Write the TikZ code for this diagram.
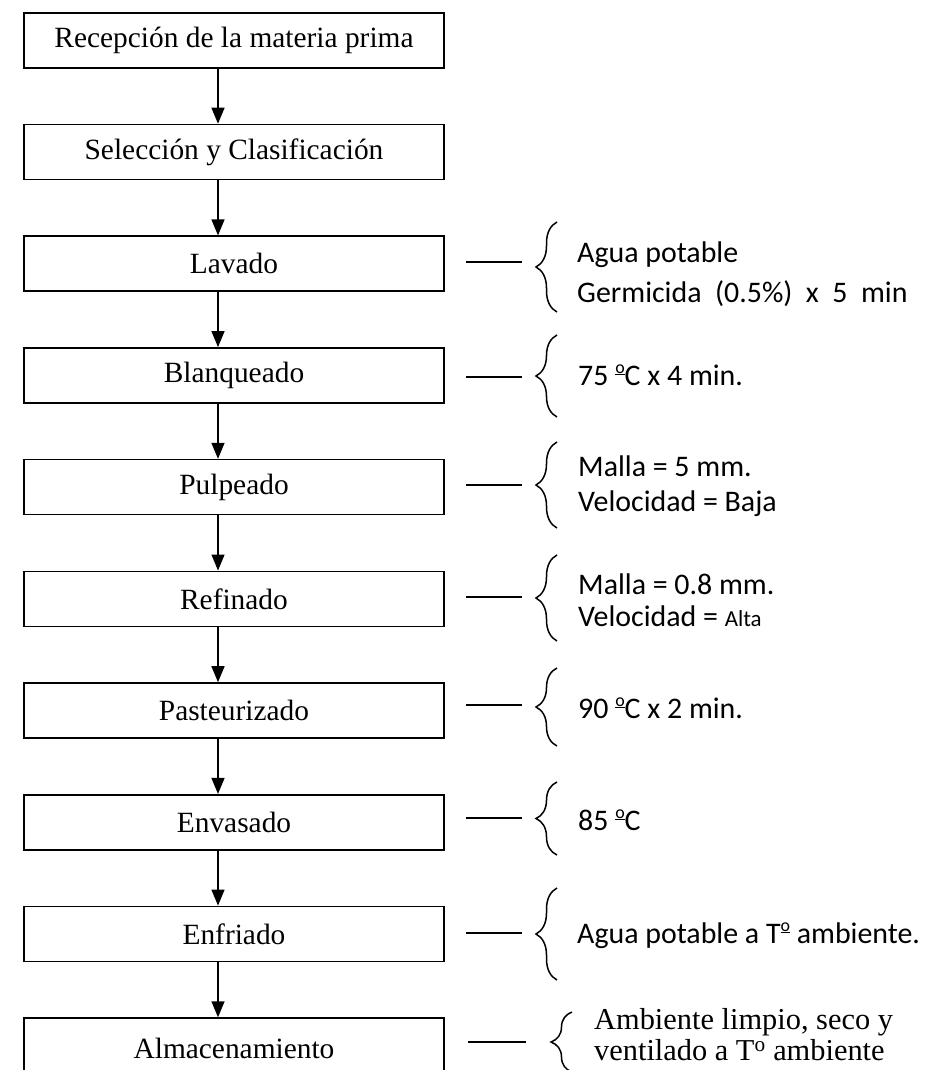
\documentclass[tikz,border=0pt]{standalone}
\usepackage{fontspec}
\usepackage{graphicx}
\setmainfont{Liberation Serif}
\newfontfamily\calib{Carlito}
\usetikzlibrary{arrows.meta,decorations.pathreplacing,calc}

% raised, underlined "o" as used in "ºC"
\newcommand\ordsign{\raisebox{0.40em}{\scalebox{0.6}{\underline{o}}}}

\tikzset{
  stepbox/.style={draw, line width=1.6bp, minimum width=420bp, minimum height=55bp,
    anchor=north, inner sep=0pt, font=\fontsize{29.5}{33}\selectfont},
  flow/.style={line width=1.4bp, -{Triangle[length=16bp,width=13bp]}},
  tick/.style={line width=1.3bp},
  curly/.style={line width=1.5bp, decorate, decoration={brace, amplitude=21bp}},
  note/.style={anchor=base west, inner sep=0pt, font=\calib\fontsize{30}{33}\selectfont},
  notetm/.style={anchor=base west, inner sep=0pt, font=\fontsize{30.5}{33}\selectfont},
}

\begin{document}
\begin{tikzpicture}[x=1bp,y=-1bp]
\clip (0,0) rectangle (943,1070);
\useasboundingbox (0,0) rectangle (943,1070);

% process steps
\node[stepbox] (b0) at (234,12)    {Recepción de la materia prima};
\node[stepbox] (b1) at (234,123.7) {Selección y Clasificación};
\node[stepbox] (b2) at (234,235.4) {Lavado};
\node[stepbox] (b3) at (234,347.1) {Blanqueado};
\node[stepbox] (b4) at (234,458.8) {Pulpeado};
\node[stepbox] (b5) at (234,570.5) {Refinado};
\node[stepbox] (b6) at (234,682.2) {Pasteurizado};
\node[stepbox] (b7) at (234,793.9) {Envasado};
\node[stepbox] (b8) at (234,905.6) {Enfriado};
\node[stepbox, minimum height=60bp] (b9) at (234,1017.3) {Almacenamiento};

% flow arrows (slightly left of the box centres)
\coordinate (ax) at (218,0);
\foreach \a/\b in {b0/b1,b1/b2,b2/b3,b3/b4,b4/b5,b5/b6,b6/b7,b7/b8,b8/b9}
  \draw[flow] (\a.south -| ax) -- (\b.north -| ax);

% condition ticks and braces: step / tick y / brace top / brace bottom
\foreach \n/\y/\t/\u in {2/262/222/312, 3/377/335/417, 4/485/442/528,
                          5/597/555/641, 6/705/668/746, 7/818/782/855,
                          8/933/888/980}{
  \coordinate (d\n s) at (466,\y);
  \coordinate (d\n e) at (522,\y);
  \coordinate (k\n t) at (557,\t);
  \coordinate (k\n b) at (557,\u);
  \draw[tick] (d\n s) -- (d\n e);
  \draw[curly] (k\n b) -- (k\n t);
}
\coordinate (d9s) at (468,1042);
\coordinate (d9e) at (526,1042);
\coordinate (k9t) at (572,1012);
\coordinate (k9b) at (572,1072);
\draw[tick] (d9s) -- (d9e);
\draw[curly] (k9b) -- (k9t);

% conditions of each step
\node[note] (n2a) at (577,262) {Agua potable};
\node[note] (n2b) at (577,302) {Germicida~ (0.5\%)~ x~ 5~ min};
\node[note] (n3)  at (578,385) {75 \ordsign C x 4 min.};
\node[note] (n4a) at (578,476) {Malla = 5 mm.};
\node[note] (n4b) at (578,511) {Velocidad = Baja};
\node[note] (n5a) at (578,594) {Malla = 0.8 mm.};
\node[note] (n5b) at (578,626) {Velocidad = {\fontsize{23}{26}\selectfont Alta}};
\node[note] (n6)  at (578,718) {90 \ordsign C x 2 min.};
\node[note] (n7)  at (578,830) {85 \ordsign C};
\node[note] (n8)  at (577,943) {Agua potable a T\ordsign\ ambiente.};
\node[notetm] (n9a) at (594,1029) {Ambiente limpio, seco y};
\node[notetm] (n9b) at (594,1060) {ventilado a T\textsuperscript{o} ambiente};
\end{tikzpicture}
\end{document}
